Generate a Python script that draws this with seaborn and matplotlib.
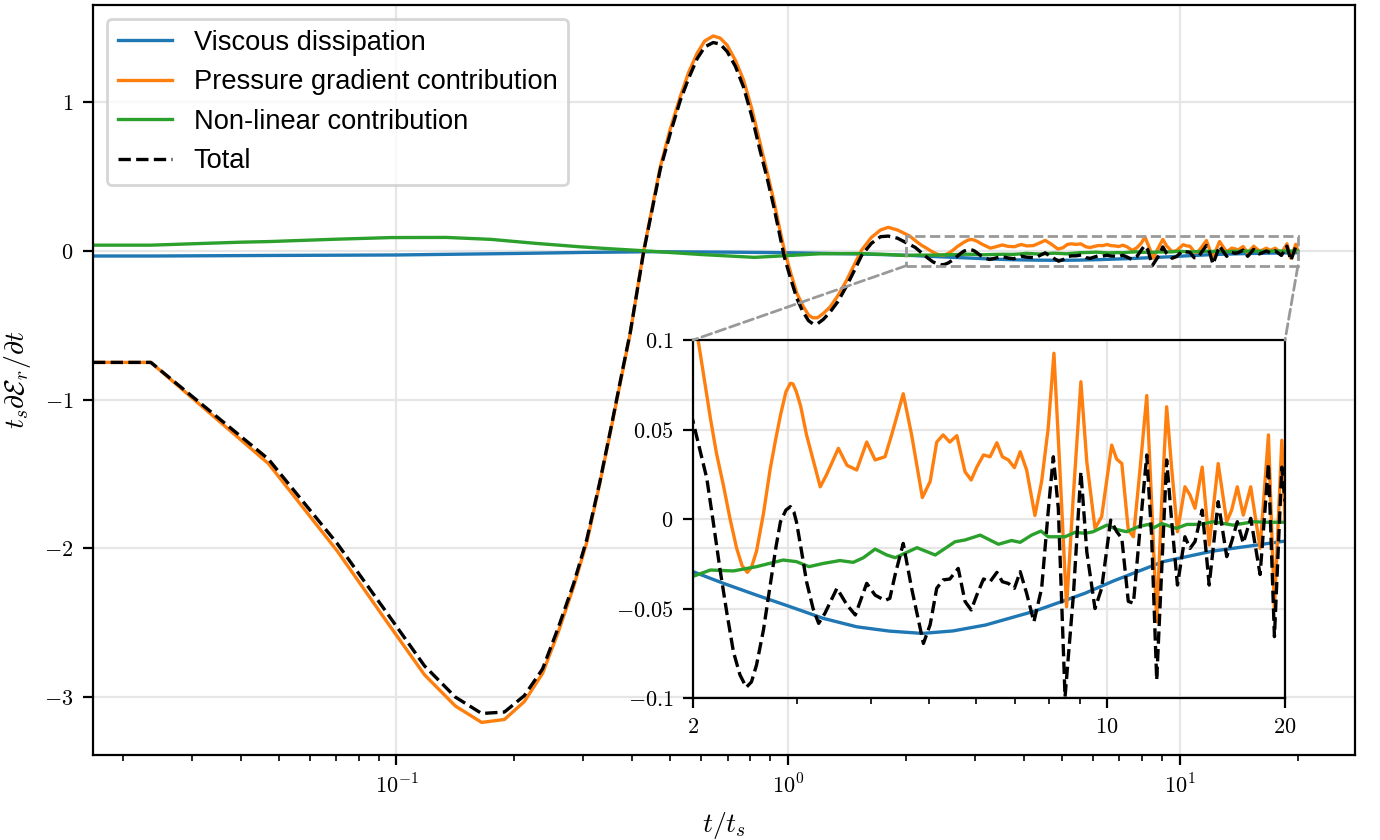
import numpy as np
import matplotlib
matplotlib.use("Agg")
import matplotlib.pyplot as plt
import seaborn as sns
from matplotlib.patches import Rectangle, ConnectionPatch
from matplotlib.ticker import FuncFormatter, NullFormatter, FixedLocator

plt.rcParams['mathtext.fontset'] = 'cm'
plt.rcParams['font.family'] = ['Liberation Sans', 'DejaVu Sans']

# ---------------- data ----------------
t_press = [0.0168, 0.0236, 0.0471, 0.0707, 0.0943, 0.1179, 0.1414, 0.165, 0.1886, 0.212,
           0.236, 0.259, 0.283, 0.306, 0.330, 0.354, 0.377, 0.395, 0.4275, 0.4715,
           0.50, 0.530, 0.557, 0.585, 0.612, 0.643, 0.67, 0.698, 0.733, 0.769,
           0.808, 0.848, 0.883, 0.918, 0.947, 0.977, 1.015, 1.052, 1.09, 1.127,
           1.155, 1.188, 1.23, 1.28, 1.34, 1.41, 1.47, 1.54, 1.63, 1.72,
           1.80, 1.90, 2.04, 2.09, 2.14, 2.19, 2.25, 2.31, 2.37, 2.42,
           2.47, 2.51, 2.56, 2.63, 2.70, 2.76, 2.81, 2.87, 2.92, 2.95,
           2.99, 3.04, 3.11, 3.28, 3.36,
           3.52, 3.64, 3.78, 3.93, 4.06, 4.22, 4.33, 4.53, 4.68, 4.88,
           5.03, 5.16, 5.29, 5.43, 5.58, 5.76, 5.90, 6.03, 6.19, 6.35,
           6.52, 6.66, 6.82, 6.98, 7.14, 7.32, 7.56, 7.76, 7.96, 8.14,
           8.33, 8.55, 8.78, 9.04, 9.25, 9.55, 9.80, 10.19, 10.39, 10.60,
           10.87, 11.09, 11.38, 11.68, 11.90, 12.14, 12.38, 12.62, 12.87, 13.16,
           13.55, 13.82, 14.09, 14.49, 14.89, 15.42, 15.94, 16.25, 16.61, 17.0,
           17.5, 18.15, 18.75, 19.19, 19.75, 20.0]
pressure = [-0.75, -0.75, -1.43, -2.02, -2.49, -2.85, -3.06, -3.17, -3.15, -3.03,
            -2.84, -2.56, -2.26, -1.96, -1.57, -1.18, -0.82, -0.555, 0.0, 0.565,
            0.82, 1.036, 1.20, 1.327, 1.41, 1.444, 1.43, 1.383, 1.28, 1.148,
            0.95, 0.722, 0.53, 0.341, 0.17, 0.005, -0.15, -0.286, -0.37, -0.432,
            -0.45, -0.45, -0.42, -0.376, -0.30, -0.197, -0.10, 0.005, 0.09, 0.14,
            0.158, 0.14, 0.100, 0.078, 0.0562, 0.037, 0.019, 0.0, -0.0164, -0.026,
            -0.0298, -0.027, -0.018, 0.003, 0.028, 0.045, 0.058, 0.071, 0.0758, 0.0755,
            0.071, 0.063, 0.047, 0.018, 0.0246,
            0.0395, 0.030, 0.0274, 0.043, 0.033, 0.0348, 0.047, 0.070, 0.047, 0.012,
            0.021, 0.043, 0.047, 0.043, 0.0466, 0.0264, 0.0218, 0.029, 0.0358, 0.0348,
            0.0426, 0.0348, 0.033, 0.0287, 0.0376, 0.0274, 0.002, 0.021, 0.0506, 0.0926,
            0.028, -0.049, 0.0134, 0.0767, 0.032, -0.0052, 0.0013, 0.0413, 0.0335, 0.031,
            -0.0061, -0.0099, 0.028, 0.069, 0.0097, -0.0574, 0.0097, 0.0627, 0.028, -0.0071,
            0.018, 0.0134, 0.006, 0.029, -0.0145, 0.031, -0.0015, 0.005, 0.018, 0.0022,
            0.018, -0.0164, 0.047, -0.050, 0.044, -0.0015]

t_total = [0.0168, 0.0236, 0.0471, 0.0707, 0.0943, 0.1179, 0.1414, 0.165, 0.1886, 0.212,
           0.236, 0.259, 0.283, 0.306, 0.330, 0.354, 0.377, 0.395, 0.4275, 0.4715,
           0.50, 0.530, 0.557, 0.585, 0.612, 0.643, 0.67, 0.698, 0.733, 0.769,
           0.808, 0.848, 0.883, 0.918, 0.947, 0.977, 1.015, 1.052, 1.09, 1.127,
           1.155, 1.188, 1.23, 1.28, 1.34, 1.41, 1.47, 1.54, 1.63, 1.72,
           1.80, 1.90, 2.016, 2.06, 2.11, 2.16, 2.22, 2.28,
           2.34, 2.40, 2.46, 2.51, 2.56, 2.63, 2.70, 2.76, 2.81, 2.87, 2.92, 2.96,
           2.99, 3.05, 3.11, 3.19, 3.26, 3.34,
           3.50, 3.64, 3.76, 3.93, 4.06, 4.22, 4.30, 4.39, 4.53, 4.68,
           4.90, 5.03, 5.16, 5.29, 5.43, 5.61, 5.76, 5.90, 6.03, 6.19,
           6.35, 6.52, 6.66, 6.82, 6.98, 7.14, 7.32, 7.53, 7.76, 7.96,
           8.12, 8.28, 8.50, 8.78, 9.04, 9.25, 9.55, 9.80, 10.15, 10.39,
           10.60, 10.87, 11.09, 11.38, 11.68, 11.90, 12.14, 12.38, 12.62, 12.87,
           13.16, 13.55, 13.82, 14.09, 14.49, 14.89, 15.42, 15.94, 16.25, 16.61,
           17.0, 17.5, 18.15, 18.75, 19.19, 19.75, 20.0]
total = [-0.75, -0.75, -1.40, -1.97, -2.43, -2.79, -3.00, -3.11, -3.10, -2.99,
         -2.81, -2.53, -2.24, -1.94, -1.56, -1.17, -0.81, -0.55, -0.006, 0.55,
         0.79, 1.01, 1.16, 1.29, 1.37, 1.40, 1.39, 1.34, 1.24, 1.10,
         0.90, 0.67, 0.49, 0.30, 0.13, -0.04, -0.19, -0.32, -0.41, -0.47,
         -0.49, -0.49, -0.46, -0.41, -0.34, -0.235, -0.14, -0.03, 0.05, 0.095,
         0.099, 0.085, 0.0497, 0.037, 0.0227, 0.0, -0.0276, -0.052,
         -0.0741, -0.087, -0.094, -0.091, -0.0816, -0.062, -0.0369, -0.016, -0.0015, 0.005, 0.0069, 0.004,
         -0.0015, -0.018, -0.035, -0.05, -0.0583, -0.0527,
         -0.0387, -0.048, -0.0536, -0.0359, -0.0425, -0.0455, -0.0443, -0.031, -0.0136, -0.0387,
         -0.0695, -0.059, -0.0387, -0.034, -0.0335, -0.0276, -0.046, -0.0508, -0.0425, -0.0335,
         -0.035, -0.0298, -0.035, -0.036, -0.0387, -0.0294, -0.0415, -0.0574, -0.0387, 0.0041,
         0.0348, 0.006, -0.0993, -0.0425, 0.0264, -0.0183, -0.05, -0.0387, -0.0006, -0.007,
         -0.0108, -0.046, -0.047, -0.0052, 0.0358, -0.009, -0.09, -0.0276, 0.033, -0.0015,
         -0.0369, -0.0099, -0.0164, -0.0126, 0.005, -0.0369, 0.0097, -0.021, -0.0126, -0.0015,
         -0.0135, 0.0004, -0.031, 0.031, -0.0657, 0.029, 0.0097]

t_visc = [0.0168, 0.0236, 0.05, 0.1, 0.2, 0.3, 0.45, 0.7, 1.0, 1.5,
          2.0, 2.25, 2.56, 2.92, 3.32, 3.78, 4.29, 4.88, 5.5, 6.24,
          7.56, 9.18, 10.26, 12.45, 15.1, 17.5, 20.0]
viscous = [-0.035, -0.035, -0.031, -0.028, -0.018, -0.011, -0.006, -0.009, -0.013, -0.021,
           -0.0294, -0.0359, -0.0425, -0.049, -0.0555, -0.0602, -0.0626, -0.0639, -0.0625, -0.0592,
           -0.0514, -0.0415, -0.0346, -0.0238, -0.0179, -0.015, -0.0123]

t_nonlin = [0.0168, 0.0236, 0.04, 0.047, 0.07, 0.097, 0.134, 0.174, 0.227, 0.294,
            0.34, 0.43, 0.6, 0.82, 1.0, 1.2, 1.5, 1.8, 2.0, 2.14,
            2.34, 2.56, 2.84, 2.99, 3.14, 3.32, 3.54, 3.73, 3.88, 4.06,
            4.25, 4.39, 4.78, 5.13, 5.54, 5.76, 6.11, 6.56, 6.90, 7.14,
            7.46, 7.74, 7.96, 8.50, 8.84, 9.18, 9.48, 10.0, 10.39, 10.8,
            11.3, 11.75, 12.0, 12.38, 13.1, 13.65, 14.35, 15.13, 16.35, 17.7,
            18.6, 20.0]
nonlinear = [0.038, 0.038, 0.058, 0.062, 0.078, 0.089, 0.09, 0.077, 0.05, 0.027,
             0.016, 0.0, -0.025, -0.044, -0.032, -0.02, -0.018, -0.025, -0.032, -0.0285,
             -0.029, -0.0266, -0.0229, -0.0238, -0.0266, -0.0248, -0.0232, -0.0242, -0.0216, -0.0168,
             -0.0201, -0.0216, -0.016, -0.0201, -0.0127, -0.0117, -0.009, -0.0141, -0.012, -0.013,
             -0.009, -0.0067, -0.0099, -0.0099, -0.0074, -0.008, -0.0071, -0.0034, -0.0058, -0.0071,
             -0.0043, -0.003, -0.0049, -0.0025, -0.0052, -0.003, -0.003, -0.0015, -0.0034, -0.0015,
             -0.0018, -0.0018]

labels = ["Viscous dissipation", "Pressure gradient contribution",
          "Non-linear contribution", "Total"]
colors = ["#1f77b4", "#ff7f0e", "#2ca02c", "black"]
yticks_main = [-3, -2, -1, 0, 1]
xticks_inset = [2, 10, 20]
yticks_inset = [-0.1, -0.05, 0, 0.05, 0.1]

series = [(t_visc, viscous), (t_press, pressure), (t_nonlin, nonlinear), (t_total, total)]
styles = ["-", "-", "-", "--"]
LW = 1.2

# ---------------- figure ----------------
fig = plt.figure(figsize=(6.9, 4.2), dpi=200)
ax = fig.add_axes([0.0674, 0.101, 0.9146, 0.893])
ax.set_xscale('log')

for (tx, vy), lab, col, ls in zip(series, labels, colors, styles):
    sns.lineplot(x=tx, y=vy, ax=ax, color=col, lw=LW, linestyle=ls,
                 label=lab, estimator=None, sort=False)

ax.set_xlim(0.0168, 28)
ax.set_ylim(-3.39, 1.652)
ax.set_yticks(yticks_main)
ax.yaxis.set_major_formatter(FuncFormatter(lambda v, p: r'$%g$' % v))
ax.xaxis.set_major_formatter(FuncFormatter(lambda v, p: r'$10^{%d}$' % round(np.log10(v))))
ax.xaxis.set_minor_formatter(NullFormatter())
ax.tick_params(labelsize=8)
ax.grid(True, which='major', color='0.9', lw=0.8)
ax.set_axisbelow(True)
ax.set_xlabel(r'$t/t_s$', fontsize=10)
ax.set_ylabel(r'$t_s\partial\mathcal{E}_r/\partial t$', fontsize=10)
leg = ax.legend(loc='upper left', fontsize=9.8)
for h in leg.get_lines():
    h.set_linewidth(LW)

# ---------------- inset ----------------
axins = fig.add_axes([0.5022, 0.1690, 0.4290, 0.4262])
axins.set_xscale('log')
axins.patch.set_alpha(0.0)
for (tx, vy), col, ls in zip(series, colors, styles):
    sns.lineplot(x=tx, y=vy, ax=axins, color=col, lw=LW, linestyle=ls,
                 estimator=None, sort=False, legend=False)
axins.set_xlim(2, 20)
axins.set_ylim(-0.1, 0.1)
axins.xaxis.set_major_locator(FixedLocator(xticks_inset))
axins.xaxis.set_major_formatter(FuncFormatter(lambda v, p: r'$%g$' % v))
axins.xaxis.set_minor_formatter(NullFormatter())
axins.set_yticks(yticks_inset)
axins.yaxis.set_major_formatter(FuncFormatter(lambda v, p: r'$%g$' % v))
axins.tick_params(labelsize=8)
axins.grid(True, which='major', color='0.9', lw=0.8)
axins.set_axisbelow(True)

# zoom indicator
rect = Rectangle((2, -0.1), 18, 0.2, fill=False, ec='0.6', ls='--', lw=1.0,
                 transform=ax.transData, zorder=5)
ax.add_patch(rect)
for xa, xb in [(2, 0), (20, 1)]:
    con = ConnectionPatch(xyA=(xa, -0.1), coordsA=ax.transData,
                          xyB=(xb, 1), coordsB=axins.transAxes,
                          color='0.6', ls='--', lw=1.0)
    fig.add_artist(con)

fig.savefig("out.png", dpi=200)
